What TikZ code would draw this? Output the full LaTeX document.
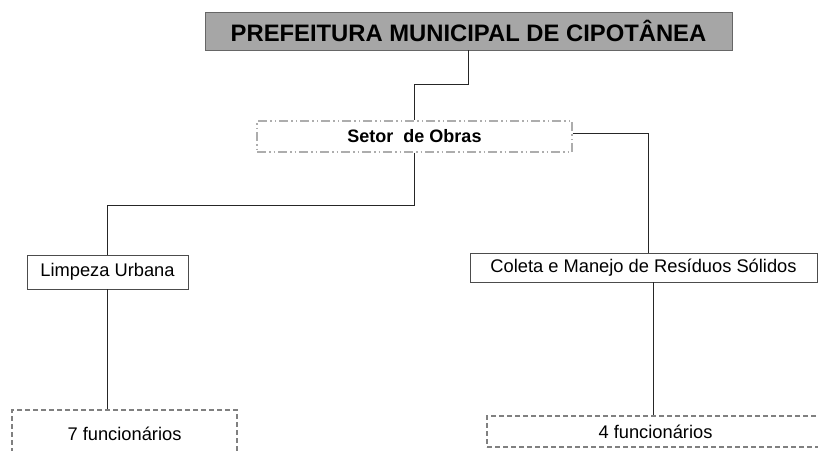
\documentclass[tikz,border=0pt]{standalone}
\usepackage{fontspec}
\setmainfont{Liberation Sans}
\usetikzlibrary{positioning,calc}

\begin{document}
\begin{tikzpicture}[x=1pt,y=1pt,
    every node/.style={inner sep=0pt,align=center},
    prefbox/.style={draw=black!60,fill=black!35,line width=0.8pt,minimum width=527pt,minimum height=38pt,font=\fontsize{23.8}{26}\selectfont\bfseries},
    setorbox/.style={draw=black!32,line width=1.4pt,dash pattern=on 9pt off 3pt on 1.5pt off 3pt on 1.5pt off 3pt,minimum width=315pt,minimum height=31pt,font=\fontsize{18}{20}\selectfont\bfseries},
    areabox/.style={draw=black!70,line width=0.9pt,font=\fontsize{18.3}{20}\selectfont},
    staffbox/.style={draw=black!50,line width=1.5pt,dash pattern=on 5pt off 3pt,font=\fontsize{18.3}{20}\selectfont},
    link/.style={draw=black!85,line width=0.9pt}]
    \useasboundingbox (0,0) rectangle (818,-450);
    \clip (0,0) rectangle (818,-450);
    \node[prefbox] (pref) at (468.5,-31) {PREFEITURA MUNICIPAL DE CIPOTÂNEA};
    \node[setorbox] (setor) at (414.5,-136.5) {Setor\ \ de Obras};
    \node[areabox,minimum width=161pt,minimum height=34pt] (limpeza) at (107.5,-272) {Limpeza Urbana};
    \node[areabox,minimum width=347pt,minimum height=29pt] (coleta) at (643.5,-267.5) {Coleta e Manejo de Resíduos Sólidos};
    \node[staffbox,minimum width=225pt,minimum height=48pt] (func7) at (124.5,-434) {7 funcionários};
    \node[staffbox,minimum width=337pt,minimum height=31pt] (func4) at (655.5,-431.5) {4 funcionários};
    \draw[link] (pref.south) -- ++(0,-34) -| (setor.north);
    \draw[link] (setor.south) -- ++(0,-53) -| (limpeza.north);
    \draw[link] ([yshift=3.5pt]setor.east) -| ([xshift=4.5pt]coleta.north);
    \draw[link] (limpeza.south) -- (limpeza.south |- func7.north);
    \draw[link] ([xshift=10pt]coleta.south) -- ([xshift=10pt]coleta.south |- func4.north);
  \end{tikzpicture}
\end{document}
